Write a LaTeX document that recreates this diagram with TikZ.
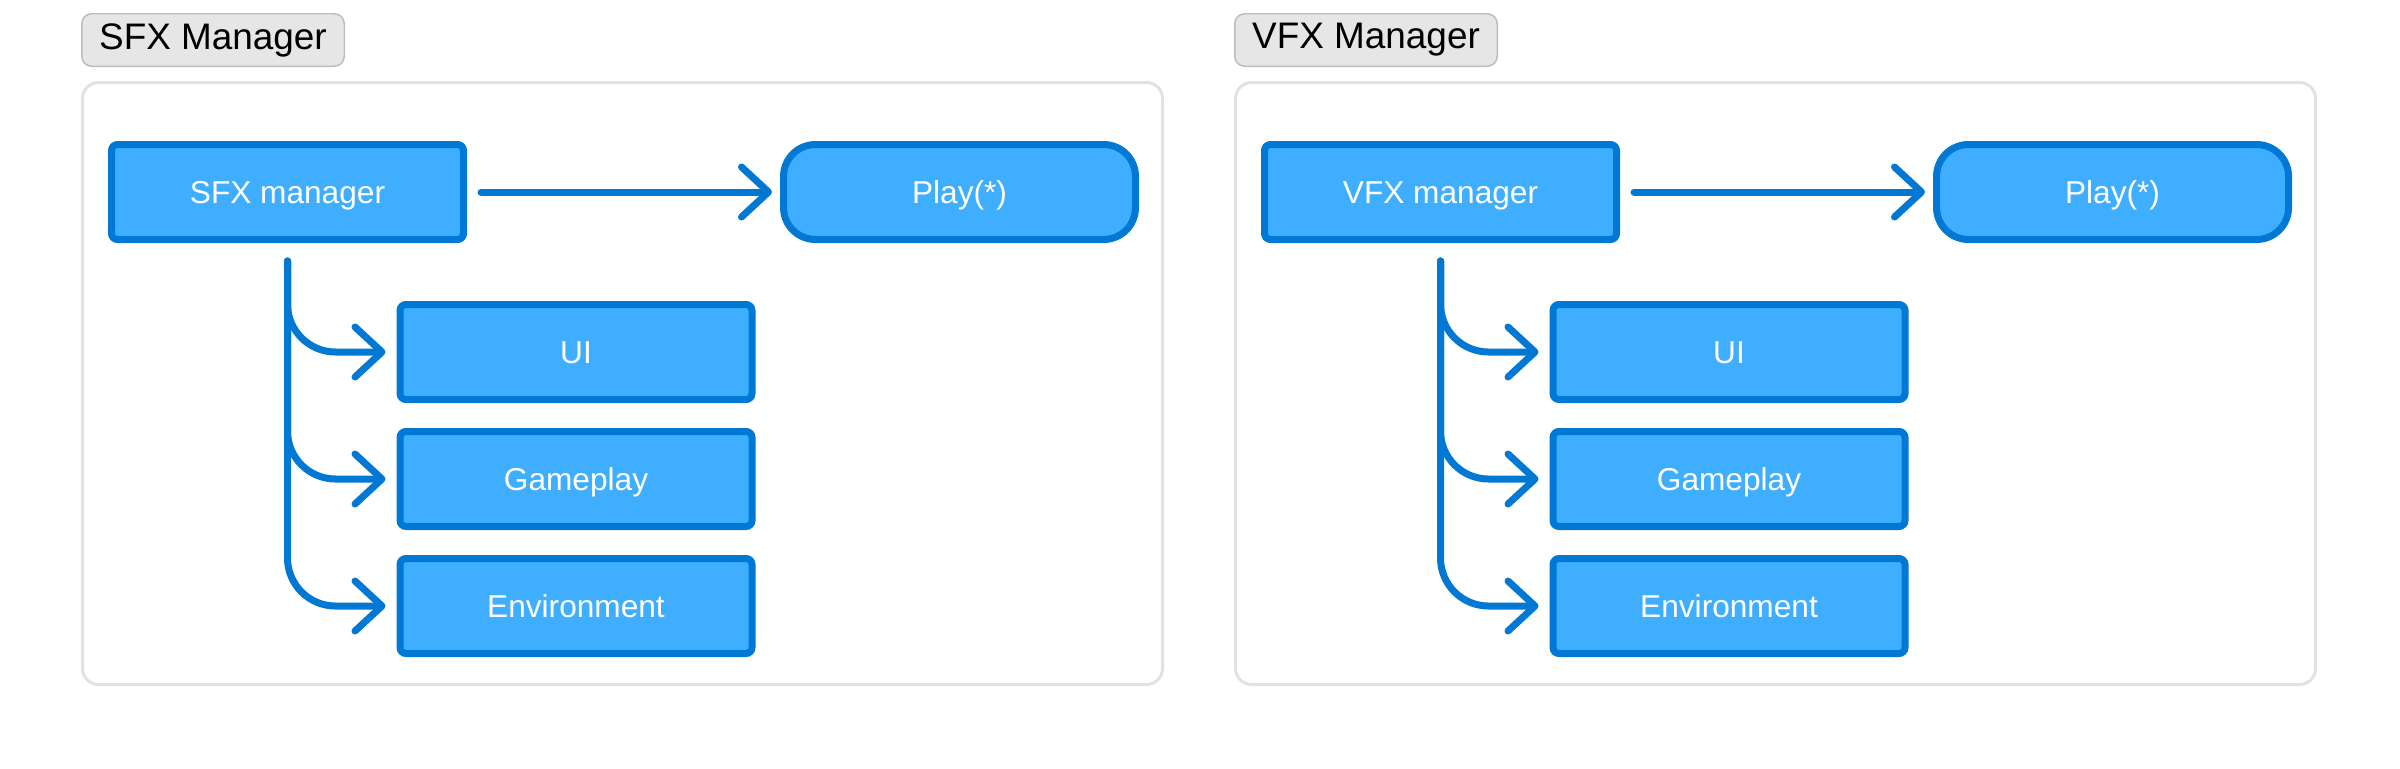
\documentclass[tikz,border=0pt]{standalone}
\usepackage{fontspec}
\setmainfont{Liberation Sans}
\usetikzlibrary{positioning, arrows.meta}
\definecolor{boxfill}{HTML}{3FAEFF}
\definecolor{boxline}{HTML}{0078D4}
\definecolor{framegray}{HTML}{E2E2E2}
\definecolor{titlefill}{HTML}{E6E6E6}
\definecolor{titleline}{HTML}{BDBDBD}

\begin{document}
\begin{tikzpicture}[
  node distance=0.25cm and 3.13cm,
  frame/.style={
    draw=framegray, fill=white, line width=0.03cm, rounded corners=0.16cm,
    minimum width=10.8cm, minimum height=6.02cm
  },
  grouptitle/.style={
    draw=titleline, fill=titlefill, line width=0.015cm, rounded corners=0.1cm,
    minimum width=2.625cm, minimum height=0.525cm, inner sep=0pt,
    font=\fontsize{10.5}{12}\selectfont
  },
  block/.style={
    draw=boxline, fill=boxfill, line width=0.07cm, rounded corners=0.06cm,
    minimum width=3.52cm, minimum height=0.95cm, inner sep=0pt,
    text=white, text height=0.23cm, text depth=0pt,
    font=\fontsize{9}{11}\selectfont
  },
  call/.style={block, rounded corners=0.32cm},
  arrow/.style={
    -{Straight Barb[length=0.27cm, width=0.5cm, line cap=round, line join=round]},
    draw=boxline, line width=0.07cm, line cap=round
  },
  branch/.style={arrow, rounded corners=0.48cm, shorten <=0.18cm, shorten >=0.11cm},
]
\useasboundingbox (0,0) rectangle (24,-7.68);

% SFX group
\node[frame] (sfxframe) at (6.225,-3.835) {};
\node[grouptitle] (sfxtitle) at (2.13,-0.40) {SFX Manager};
\node[block] (sfxmgr) at (2.875,-1.92) {SFX manager};
\node[call, right=of sfxmgr] (sfxplay) {Play(*)};
\node[block] (sfxui) at (5.76,-3.52) {UI};
\node[block, below=of sfxui] (sfxgame) {Gameplay};
\node[block, below=of sfxgame] (sfxenv) {Environment};

\draw[arrow, shorten <=0.14cm, shorten >=0.08cm] (sfxmgr) -- (sfxplay);
\draw[branch] (sfxmgr) |- (sfxui);
\draw[branch] (sfxmgr) |- (sfxgame);
\draw[branch] (sfxmgr) |- (sfxenv);

% VFX group
\node[frame] (vfxframe) at (17.755,-3.835) {};
\node[grouptitle] (vfxtitle) at (13.66,-0.40) {VFX Manager};
\node[block] (vfxmgr) at (14.405,-1.92) {VFX manager};
\node[call, right=of vfxmgr] (vfxplay) {Play(*)};
\node[block] (vfxui) at (17.29,-3.52) {UI};
\node[block, below=of vfxui] (vfxgame) {Gameplay};
\node[block, below=of vfxgame] (vfxenv) {Environment};

\draw[arrow, shorten <=0.14cm, shorten >=0.08cm] (vfxmgr) -- (vfxplay);
\draw[branch] (vfxmgr) |- (vfxui);
\draw[branch] (vfxmgr) |- (vfxgame);
\draw[branch] (vfxmgr) |- (vfxenv);

\end{tikzpicture}
\end{document}
